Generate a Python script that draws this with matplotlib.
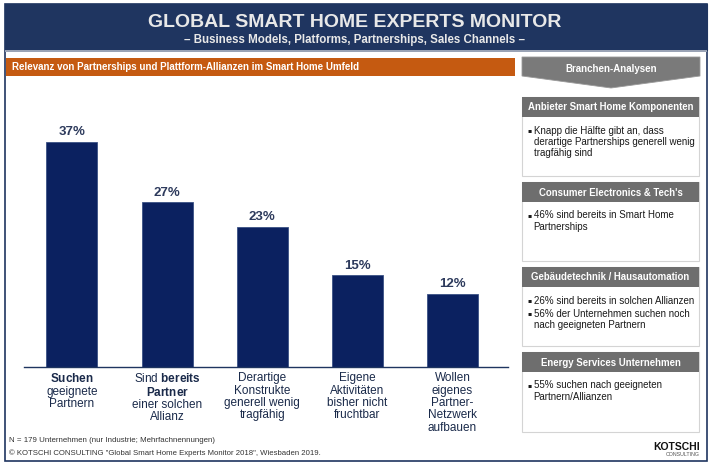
import matplotlib
matplotlib.use("Agg")
import matplotlib.pyplot as plt
from matplotlib.patches import Rectangle, Polygon

plt.rcParams['font.family'] = ['Liberation Sans', 'DejaVu Sans']
plt.rcParams['mathtext.fontset'] = 'custom'
plt.rcParams['mathtext.rm'] = 'Liberation Sans'
plt.rcParams['mathtext.bf'] = 'Liberation Sans:bold'

# ---------------- data ----------------
categories = [
    "$\\mathbf{Suchen}$\ngeeignete\nPartnern",
    "Sind $\\mathbf{bereits}$\n$\\mathbf{Partner}$\neiner solchen\nAllianz",
    "Derartige\nKonstrukte\ngenerell wenig\ntragfähig",
    "Eigene\nAktivitäten\nbisher nicht\nfruchtbar",
    "Wollen\neigenes\nPartner-\nNetzwerk\naufbauen",
]
values = [37, 27, 23, 15, 12]
value_labels = ["37%", "27%", "23%", "15%", "12%"]

title = "GLOBAL SMART HOME EXPERTS MONITOR"
subtitle = "– Business Models, Platforms, Partnerships, Sales Channels –"
chart_heading = "Relevanz von Partnerships und Plattform-Allianzen im Smart Home Umfeld"
side_heading = "Branchen-Analysen"
panel_titles = [
    "Anbieter Smart Home Komponenten",
    "Consumer Electronics & Tech's",
    "Gebäudetechnik / Hausautomation",
    "Energy Services Unternehmen",
]
panel_bullets = [
    [["Knapp die Hälfte gibt an, dass", "derartige Partnerships generell wenig", "tragfähig sind"]],
    [["46% sind bereits in Smart Home", "Partnerships"]],
    [["26% sind bereits in solchen Allianzen"],
     ["56% der Unternehmen suchen noch", "nach geeigneten Partnern"]],
    [["55% suchen nach geeigneten", "Partnern/Allianzen"]],
]
footnotes = [
    "N = 179 Unternehmen (nur Industrie; Mehrfachnennungen)",
    "© KOTSCHI CONSULTING \"Global Smart Home Experts Monitor 2018\", Wiesbaden 2019.",
]

# ---------------- colours ----------------
NAVY = "#1f3560"
BAR = "#0b2160"
ORANGE = "#c55a11"
GRAY = "#6e6e6e"
LABEL = "#2d3a5c"
TEXT = "#1a1a1a"

W, H = 710, 466
fig = plt.figure(figsize=(W / 100, H / 100), dpi=100)

# background / decoration axes in pixel coordinates
bg = fig.add_axes([0, 0, 1, 1], zorder=0)
bg.set_xlim(0, W)
bg.set_ylim(H, 0)
bg.axis("off")

# outer frame
bg.add_patch(Rectangle((5, 4), 702, 457, facecolor="white", edgecolor=NAVY, lw=1.2))
# header
bg.add_patch(Rectangle((5, 4), 702, 46, facecolor=NAVY, edgecolor=NAVY, lw=0.8))
bg.add_patch(Rectangle((5, 50), 702, 2, facecolor="#9aa3b5", edgecolor="none"))
bg.text(355, 22.5, title, ha="center", va="center", color="#e8e8e8",
        fontsize=14, fontweight="bold")
bg.text(355, 39.5, subtitle, ha="center", va="center", color="#e8e8e8",
        fontsize=8.3, fontweight="bold")

# orange heading band
bg.add_patch(Rectangle((6, 57.5), 509, 18, facecolor=ORANGE, edgecolor="none"))
bg.text(12, 66.5, chart_heading, ha="left", va="center", color="white",
        fontsize=7.0, fontweight="bold")

# side arrow
bg.add_patch(Polygon([(522, 57), (700, 57), (700, 76), (611, 88), (522, 76)],
                     closed=True, facecolor="#7a7a7a", edgecolor="#9a9a9a", lw=0.6))
bg.text(611, 68.5, side_heading, ha="center", va="center", color="white",
        fontsize=7.0, fontweight="bold")

# side panels
panel_tops = [97, 182, 267, 352]
panel_bottoms = [176, 261, 346, 432]
for top, bot, ptitle, bullets in zip(panel_tops, panel_bottoms, panel_titles, panel_bullets):
    bg.add_patch(Rectangle((522, top), 177, bot - top, facecolor="white",
                           edgecolor="#d4d4d4", lw=0.8))
    bg.add_patch(Rectangle((522, top), 177, 20, facecolor=GRAY, edgecolor="none"))
    bg.text(610.5, top + 10.5, ptitle, ha="center", va="center", color="white",
            fontsize=6.9, fontweight="bold")
    y = top + 33.5
    for bullet in bullets:
        bg.text(527.5, y, "▪", ha="left", va="center", color=TEXT, fontsize=4.5,
                family=["DejaVu Sans"])
        for line in bullet:
            bg.text(533.5, y, line, ha="left", va="center", color=TEXT, fontsize=7.0)
            y += 11.5
        y += 2

# logo
bg.text(700, 447, "KOTSCHI", ha="right", va="center", color="#111111",
        fontsize=7.5, fontweight="bold")
bg.text(700, 455, "CONSULTING", ha="right", va="center", color="#555555",
        fontsize=3.8)

# footnotes
bg.text(9, 440, footnotes[0], ha="left", va="center", color="#333333", fontsize=5.7)
bg.text(9, 453, footnotes[1], ha="left", va="center", color="#333333", fontsize=5.6)

# ---------------- bar chart ----------------
x0_px, x1_px = 24, 508
base_px = 366.5
px_per_unit = 6.08
ymax = 40
ax = fig.add_axes([x0_px / W, (H - base_px) / H, (x1_px - x0_px) / W,
                   ymax * px_per_unit / H], zorder=1)
ax.patch.set_alpha(0)
step = 95.125
xs = list(range(len(values)))
ax.set_xlim((x0_px - 72) / step, (x1_px - 72) / step)
ax.set_ylim(0, ymax)
bars = ax.bar(xs, values, width=51 / step, color=BAR, edgecolor="#3b5185", lw=0.6)
for xi, v, lab in zip(xs, values, value_labels):
    ax.text(xi, v + 0.6, lab, ha="center", va="bottom", color=LABEL,
            fontsize=9.5, fontweight="bold")
ax.set_yticks([])
ax.set_xticks(xs)
ax.set_xticklabels(categories, fontsize=8.5, color="#1a2a4a", linespacing=1.05)
ax.tick_params(axis="x", length=0, pad=4)
for s in ["top", "right", "left"]:
    ax.spines[s].set_visible(False)
ax.spines["bottom"].set_color("#1f3560")
ax.spines["bottom"].set_linewidth(1.0)

fig.savefig("out.png", dpi=100)
